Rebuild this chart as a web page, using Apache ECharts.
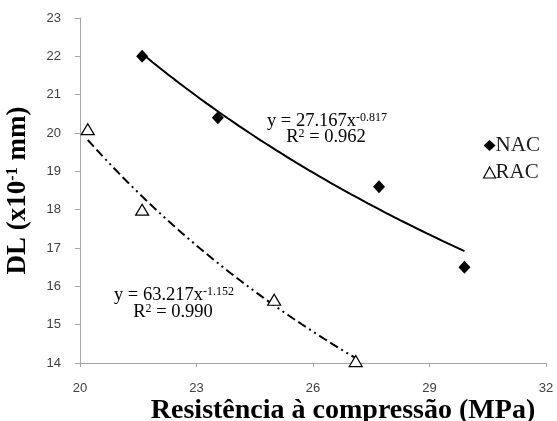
<!DOCTYPE html>
<html>
<head>
<meta charset="utf-8">
<script src="https://cdn.jsdelivr.net/npm/echarts@6/dist/echarts.min.js"></script>
<style>
  html, body { margin: 0; padding: 0; background: #ffffff; }
  #chart { width: 557px; height: 421px; }
</style>
</head>
<body>
<div id="chart"></div>
<script>
// Measured points: compressive strength (MPa) vs. DL (x10^-1 mm)
const nacStrength = [21.6, 23.55, 27.7, 29.9];
const nacDL = [22.0, 20.4, 18.6, 16.5];
const racStrength = [20.2, 21.6, 25.0, 27.1];
const racDL = [20.1, 18.0, 15.65, 14.05];

// Power-law trend lines y = a·x^b as printed on the chart (y in mm)
const nacTrend = { a: 27.167, b: -0.817, r2: '0.962', from: 21.6, to: 29.9 };
const racTrend = { a: 63.217, b: -1.152, r2: '0.990', from: 20.2, to: 27.1 };

const seriesNames = ['NAC', 'RAC'];
const xTicks = [20, 23, 26, 29, 32];
const yTicks = [14, 15, 16, 17, 18, 19, 20, 21, 22, 23];

const serif = '"Liberation Serif", "Times New Roman", serif';
const sans = '"Liberation Sans", Arial, sans-serif';
const axisGrey = '#a6a6a6';
const labelGrey = '#404040';

function pairs(xs, ys) {
  return xs.map((x, i) => [x, ys[i]]);
}

// Sample the fitted curve across the range of its points (mm -> x10^-1 mm)
function trendCurve(t) {
  const pts = [];
  const steps = 60;
  for (let i = 0; i <= steps; i++) {
    const x = t.from + (t.to - t.from) * i / steps;
    pts.push([x, 10 * t.a * Math.pow(x, t.b)]);
  }
  return pts;
}

const eqRich = {
  t: { fontFamily: serif, fontSize: 18.5, color: '#1a1a1a', lineHeight: 19, verticalAlign: 'bottom' },
  s: { fontFamily: serif, fontSize: 12, color: '#1a1a1a', lineHeight: 19, verticalAlign: 'top' }
};

// One centred text line of a trend-line annotation
function eqLine(text, cx, cy) {
  return {
    type: 'text',
    x: cx,
    y: cy,
    z: 10,
    style: { text: text, rich: eqRich, align: 'center', verticalAlign: 'middle' }
  };
}

function eqLines(t, cx, cy1, cy2) {
  return [
    eqLine('{t|y = ' + t.a.toFixed(3) + 'x}{s|' + t.b.toFixed(3) + '}', cx, cy1),
    eqLine('{t|R}{s|2}{t| = ' + t.r2 + '}', cx - 1, cy2)
  ];
}

const diamondStyle = { color: '#000000', opacity: 1 };
const triangleStyle = { color: '#ffffff', borderColor: '#000000', borderWidth: 1.2, opacity: 1 };

const chart = echarts.init(document.getElementById('chart'), null, { renderer: 'canvas' });

const option = {
  animation: false,
  backgroundColor: '#ffffff',
  grid: { left: 80, right: 11, top: 18, bottom: 58, containLabel: false, outerBoundsMode: 'none' },
  legend: {
    data: [
      { name: seriesNames[0], icon: 'diamond', itemStyle: diamondStyle },
      { name: seriesNames[1], icon: 'triangle', itemStyle: triangleStyle }
    ],
    orient: 'vertical',
    left: 478,
    top: 130,
    padding: 5,
    itemWidth: 12,
    itemHeight: 11,
    itemGap: 6,
    textStyle: { fontFamily: serif, fontSize: 21, color: '#1a1a1a', padding: [0, 0, 0, -5] }
  },
  xAxis: {
    type: 'value',
    min: xTicks[0],
    max: xTicks[xTicks.length - 1],
    interval: xTicks[1] - xTicks[0],
    name: 'Resistência à compressão (MPa)',
    nameLocation: 'middle',
    nameGap: 34,
    nameMoveOverlap: false,
    nameTextStyle: {
      fontFamily: serif, fontSize: 28, fontWeight: 'bold', color: '#000000',
      padding: [0, 0, 0, 60]
    },
    axisLine: { lineStyle: { color: axisGrey, width: 1 } },
    axisTick: { show: true, length: 4, lineStyle: { color: axisGrey } },
    axisLabel: { margin: 19, fontFamily: sans, fontSize: 13, color: labelGrey },
    splitLine: { show: false }
  },
  yAxis: {
    type: 'value',
    min: yTicks[0],
    max: yTicks[yTicks.length - 1],
    interval: 1,
    name: 'DL (x10{sup|-1} mm)',
    nameLocation: 'middle',
    nameGap: 48,
    nameMoveOverlap: false,
    nameRotate: 90,
    nameTextStyle: {
      fontFamily: serif, fontSize: 27, fontWeight: 'bold', color: '#000000',
      rich: {
        sup: { fontFamily: serif, fontSize: 16, fontWeight: 'bold', color: '#000000', verticalAlign: 'top', lineHeight: 27 }
      }
    },
    axisLine: { show: true, lineStyle: { color: axisGrey, width: 1 } },
    axisTick: { show: true, length: 5, lineStyle: { color: axisGrey } },
    axisLabel: { margin: 19, fontFamily: sans, fontSize: 13, color: labelGrey },
    splitLine: { show: false }
  },
  series: [
    {
      name: 'NAC trend',
      type: 'line',
      data: trendCurve(nacTrend),
      showSymbol: false,
      symbol: 'none',
      lineStyle: { color: '#000000', width: 2 },
      silent: true,
      z: 2
    },
    {
      name: 'RAC trend',
      type: 'line',
      data: trendCurve(racTrend),
      showSymbol: false,
      symbol: 'none',
      lineStyle: { color: '#000000', width: 2, type: [9, 4, 9, 4, 2, 4, 2, 4] },
      silent: true,
      z: 2
    },
    {
      name: seriesNames[0],
      type: 'scatter',
      data: pairs(nacStrength, nacDL),
      symbol: 'diamond',
      symbolSize: [12, 13],
      itemStyle: diamondStyle,
      z: 3
    },
    {
      name: seriesNames[1],
      type: 'scatter',
      data: pairs(racStrength, racDL),
      symbol: 'triangle',
      symbolSize: [13, 11],
      itemStyle: triangleStyle,
      z: 3
    }
  ],
  graphic: [].concat(
    eqLines(nacTrend, 327, 121, 137),
    eqLines(racTrend, 174, 295, 312)
  )
};

chart.setOption(option);
</script>
</body>
</html>
